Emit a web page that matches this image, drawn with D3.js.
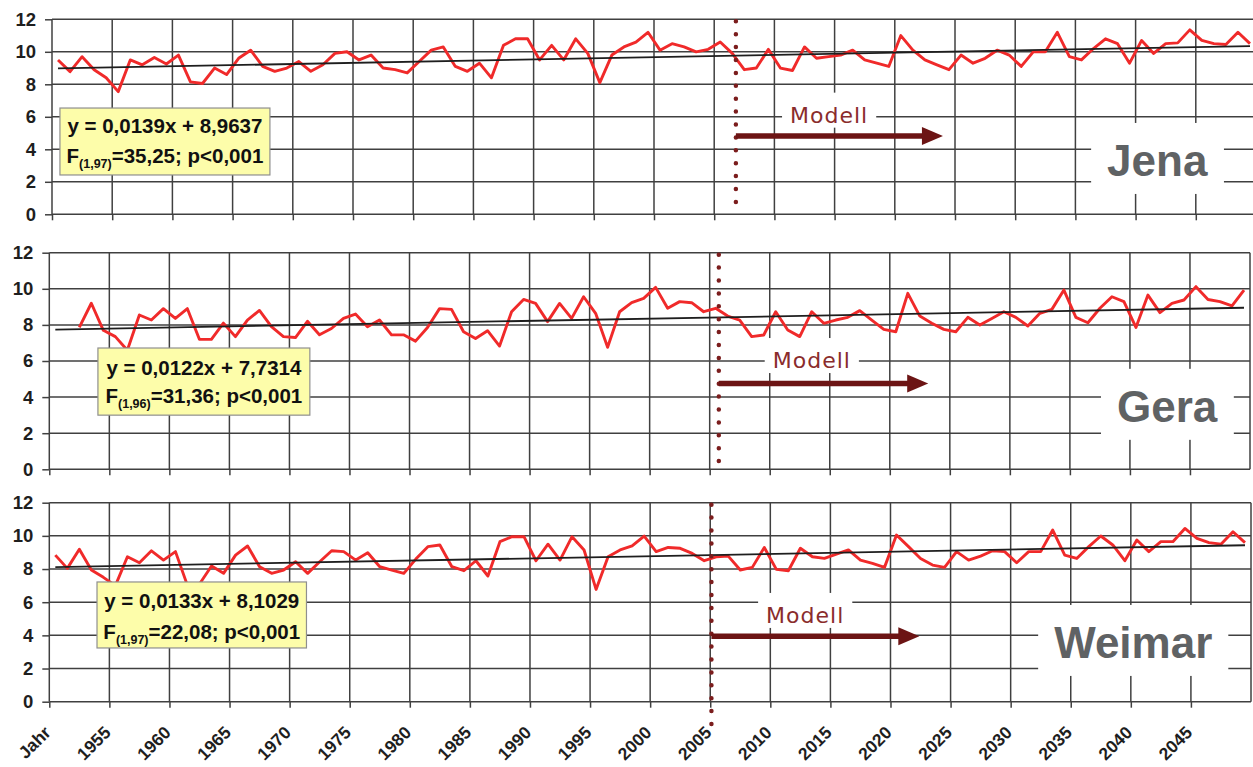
<!DOCTYPE html>
<html>
<head>
<meta charset="utf-8">
<script src="https://cdn.jsdelivr.net/npm/d3@7"></script>
<style>
  html, body { margin: 0; padding: 0; background: #fff; }
  svg { display: block; }
</style>
</head>
<body>
<svg id="chart" width="1253" height="767"></svg>
<script>
// ---- data -------------------------------------------------------------
// Category axis: one slot per year, 1950 .. 2049 (100 slots)
const firstYear = 1950;
const slotCount = 100;
const xTickLabels = ["Jahr", "1955", "1960", "1965", "1970", "1975", "1980", "1985", "1990",
  "1995", "2000", "2005", "2010", "2015", "2020", "2025", "2030", "2035", "2040", "2045"];
const yTickValues = [0, 2, 4, 6, 8, 10, 12];

// Annual mean temperature (°C), measured up to 2006, model afterwards
const jenaStart = 1950;
const jenaTemp = [
  9.5, 8.78, 9.7, 8.9, 8.4, 7.55, 9.5, 9.2, 9.65, 9.25,
  9.8, 8.15, 8.05, 9.0, 8.6, 9.6, 10.1, 9.1, 8.8, 9.0,
  9.4, 8.8, 9.2, 9.9, 10.0, 9.5, 9.8, 9.0, 8.9, 8.7,
  9.4, 10.1, 10.3, 9.1, 8.8, 9.3, 8.4, 10.4, 10.8, 10.8,
  9.5, 10.4, 9.5, 10.8, 9.9, 8.1, 9.8, 10.3, 10.6, 11.2,
  10.1, 10.5, 10.3, 10.0, 10.15, 10.6, 9.9, 8.9, 9.0, 10.15,
  9.0, 8.85, 10.3, 9.6, 9.7, 9.8, 10.1, 9.5, 9.3, 9.1,
  11.0, 10.1, 9.5, 9.2, 8.9, 9.8, 9.3, 9.6, 10.1, 9.8,
  9.1, 10.0, 10.0, 11.2, 9.7, 9.5, 10.2, 10.8, 10.5, 9.3,
  10.7, 9.9, 10.5, 10.55, 11.35, 10.7, 10.5, 10.45, 11.2, 10.5
];

const geraStart = 1952;
const geraTemp = [
  7.86, 9.2, 7.7, 7.35, 6.6, 8.55, 8.27, 8.9,
  8.36, 8.9, 7.2, 7.2, 8.1, 7.35, 8.27, 8.8, 7.9, 7.35,
  7.3, 8.2, 7.45, 7.8, 8.36, 8.6, 7.9, 8.27, 7.45, 7.45,
  7.1, 7.86, 8.9, 8.86, 7.62, 7.25, 7.68, 6.83, 8.73, 9.41,
  9.19, 8.18, 9.19, 8.36, 9.56, 8.64, 6.76, 8.73, 9.23, 9.47,
  10.08, 8.92, 9.29, 9.23, 8.73, 8.92, 8.49, 8.27, 7.35, 7.44,
  8.73, 7.72, 7.35, 8.73, 8.09, 8.27, 8.42, 8.79, 8.27, 7.75,
  7.62, 9.75, 8.49, 8.09, 7.75, 7.62, 8.42, 7.99, 8.36, 8.73,
  8.42, 7.94, 8.64, 8.86, 9.93, 8.42, 8.12, 8.92, 9.56, 9.29,
  7.86, 9.65, 8.68, 9.19, 9.38, 10.12, 9.41, 9.29, 9.05, 9.93
];

const weimarStart = 1950;
const weimarTemp = [
  8.84, 8.04, 9.19, 7.94, 7.5, 7.0, 8.74, 8.38, 9.1, 8.54,
  9.05, 7.0, 7.1, 8.18, 7.74, 8.84, 9.39, 8.14, 7.74, 7.94,
  8.44, 7.74, 8.44, 9.1, 9.05, 8.54, 8.98, 8.14, 7.94, 7.74,
  8.6, 9.35, 9.45, 8.14, 7.9, 8.5, 7.58, 9.65, 9.95, 9.95,
  8.5, 9.5, 8.54, 9.95, 9.15, 6.77, 8.74, 9.15, 9.39, 9.99,
  9.05, 9.3, 9.25, 8.94, 8.5, 8.74, 8.78, 7.94, 8.1, 9.3,
  7.98, 7.9, 9.25, 8.74, 8.64, 8.9, 9.15, 8.54, 8.34, 8.1,
  10.05, 9.35, 8.64, 8.24, 8.1, 9.05, 8.54, 8.78, 9.1, 9.05,
  8.38, 9.05, 9.05, 10.35, 8.84, 8.64, 9.35, 9.99, 9.45, 8.5,
  9.75, 9.05, 9.65, 9.65, 10.45, 9.85, 9.59, 9.5, 10.25, 9.59
];

// Linear trends y = slope * x + intercept, x = slot number starting at 1
const stationNames = ["Jena", "Gera", "Weimar"];
const trendSlope = [0.0139, 0.0122, 0.0133];
const trendIntercept = [8.9637, 7.7314, 8.1029];
const equationText = ["y = 0,0139x + 8,9637", "y = 0,0122x + 7,7314", "y = 0,0133x + 8,1029"];
const fDegrees = ["(1,97)", "(1,96)", "(1,97)"];
const fResult = ["=35,25; p<0,001", "=31,36; p<0,001", "=22,08; p<0,001"];
const modelLabel = "Modell";

// ---- layout (pixels / axis units) --------------------------------------
const W = 1253, H = 767;
const panels = [
  { left: 52,   right: 1256, top: 19.3,  bottom: 214.3, start: jenaStart,   temps: jenaTemp,
    eqBox: [0.66, 18.1, 6.54, 2.42], eqL1: 25, eqL2: 55,
    split: 56.8, splitRange: [12, 0],    arrowV: 4.82, arrowEnd: 74.0,
    modelX: 61.3, modelV: 5.64, nameX: 91.8, nameV: 2.36 },
  { left: 49.3, right: 1250, top: 252.7, bottom: 469.3, start: geraStart,   temps: geraTemp,
    eqBox: [4.05, 21.7, 6.72, 3.0], eqL1: 27, eqL2: 55,
    split: 55.76, splitRange: [12, 0.4], arrowV: 4.76, arrowEnd: 73.2,
    modelX: 60.25, modelV: 5.61, nameX: 93.1, nameV: 2.63 },
  { left: 49.3, right: 1251, top: 502.7, bottom: 701.7, start: weimarStart, temps: weimarTemp,
    eqBox: [3.97, 21.4, 7.22, 3.24], eqL1: 26, eqL2: 57,
    split: 55.1, splitRange: [12, -1.4], arrowV: 3.95, arrowEnd: 72.4,
    modelX: 59.65, modelV: 4.75, nameX: 90.2, nameV: 2.64 }
];

const gridColor = "#404040";
const lineRed = "#f02a2a";
const darkRed = "#6c1414";
const font = "'Liberation Sans', Arial, Helvetica, sans-serif";

const svg = d3.select("#chart");
svg.append("rect").attr("width", W).attr("height", H).attr("fill", "#fff");

panels.forEach((p, i) => {
  const g = svg.append("g");
  const x = d3.scaleLinear().domain([0, slotCount]).range([p.left, p.right]);
  const y = d3.scaleLinear().domain([0, 12]).range([p.bottom, p.top]);
  const xRight = Math.min(p.right, W);

  // horizontal grid
  g.append("g").selectAll("line").data(yTickValues).join("line")
    .attr("x1", p.left).attr("x2", xRight)
    .attr("y1", d => y(d)).attr("y2", d => y(d))
    .attr("stroke", gridColor).attr("stroke-width", 1.5);

  // vertical grid every 5 slots
  const bounds = d3.range(0, slotCount + 1, 5);
  g.append("g").selectAll("line").data(bounds.filter(b => x(b) <= W)).join("line")
    .attr("x1", d => x(d)).attr("x2", d => x(d))
    .attr("y1", y(12)).attr("y2", y(0))
    .attr("stroke", gridColor).attr("stroke-width", 1.5);

  // y axis
  const yAxis = d3.axisLeft(y).tickValues(yTickValues).tickSize(7).tickPadding(9)
    .tickFormat(d3.format("d"));
  const ya = g.append("g").attr("transform", `translate(${p.left},0)`).call(yAxis);
  ya.select(".domain").remove();
  ya.selectAll("line").attr("stroke", gridColor).attr("stroke-width", 1.5);
  ya.selectAll("text").attr("font-family", font).attr("font-weight", "bold")
    .attr("font-size", 18.5).attr("fill", "#1e1e1e");

  // x axis (labels only on the lowest panel)
  const isLast = i === panels.length - 1;
  const xAxis = d3.axisBottom(x).tickValues(bounds.slice(0, 20)).tickSize(6)
    .tickFormat((d, k) => isLast ? xTickLabels[k] : "");
  const xa = g.append("g").attr("transform", `translate(0,${p.bottom})`).call(xAxis);
  xa.select(".domain").remove();
  xa.selectAll("line").attr("stroke", gridColor).attr("stroke-width", 1.5);
  xa.selectAll("text")
    .attr("font-family", font).attr("font-weight", "bold").attr("font-size", 17.5)
    .attr("fill", "#1e1e1e")
    .attr("x", 0).attr("y", 0).attr("dy", 0)
    .attr("text-anchor", "end")
    .attr("transform", "translate(2,32) rotate(-45)");

  // temperature series
  const pts = p.temps.map((v, k) => ({ slot: p.start - firstYear + k, v }));
  g.append("path").datum(pts)
    .attr("fill", "none").attr("stroke", lineRed).attr("stroke-width", 2.9)
    .attr("stroke-linejoin", "round")
    .attr("d", d3.line().x(d => x(d.slot + 0.5)).y(d => y(d.v)));

  // trend line over the full category range
  const trend = [0, slotCount - 1].map(s => ({ slot: s, v: trendSlope[i] * (s + 1) + trendIntercept[i] }));
  g.append("path").datum(trend)
    .attr("fill", "none").attr("stroke", "#1e1e1e").attr("stroke-width", 1.8)
    .attr("d", d3.line().x(d => x(d.slot + 0.5)).y(d => y(d.v)));

  // regression box
  const [b0, b1, v0, v1] = p.eqBox;
  const bx = x(b0), by = y(v0), bw = x(b1) - x(b0), bh = y(v1) - y(v0);
  g.append("rect").attr("x", bx).attr("y", by).attr("width", bw).attr("height", bh)
    .attr("fill", "#fdfdaa").attr("stroke", "#8f8f8f").attr("stroke-width", 1.2);
  g.append("text").attr("x", bx + bw / 2).attr("y", by + p.eqL1)
    .attr("text-anchor", "middle").attr("font-family", font).attr("font-weight", "bold")
    .attr("font-size", 20.5).attr("fill", "#111").text(equationText[i]);
  const f = g.append("text").attr("x", bx + bw / 2).attr("y", by + p.eqL2)
    .attr("text-anchor", "middle").attr("font-family", font).attr("font-weight", "bold")
    .attr("font-size", 20.5).attr("fill", "#111");
  f.append("tspan").text("F");
  f.append("tspan").attr("font-size", 12.5).attr("dy", 5).text(fDegrees[i]);
  f.append("tspan").attr("font-size", 20.5).attr("dy", -5).text(fResult[i]);

  // start of model period
  g.append("line")
    .attr("x1", x(p.split)).attr("x2", x(p.split))
    .attr("y1", y(p.splitRange[0]) + 2).attr("y2", y(p.splitRange[1]))
    .attr("stroke", "#7b1d1d").attr("stroke-width", 4.5)
    .attr("stroke-linecap", "round").attr("stroke-dasharray", "0 12.9");

  // "Modell" label with white background
  const mt = g.append("text").attr("x", x(p.modelX)).attr("y", y(p.modelV))
    .attr("font-family", "'DejaVu Sans', Verdana, sans-serif").attr("font-size", 22)
    .attr("letter-spacing", 1).attr("fill", "#8a2c2c").text(modelLabel);
  const mb = mt.node().getBBox();
  g.insert("rect", () => mt.node())
    .attr("x", mb.x - 8).attr("y", mb.y - 10).attr("width", mb.width + 16).attr("height", mb.height + 10)
    .attr("fill", "#fff");

  // arrow into the model period
  const ay = y(p.arrowV), ax0 = x(p.split), ax1 = x(p.arrowEnd);
  g.append("line").attr("x1", ax0).attr("x2", ax1 - 16).attr("y1", ay).attr("y2", ay)
    .attr("stroke", darkRed).attr("stroke-width", 5.5);
  g.append("path")
    .attr("d", `M${ax1},${ay} L${ax1 - 21},${ay - 9} L${ax1 - 21},${ay + 9} Z`)
    .attr("fill", darkRed);

  // station name with white background
  const nt = g.append("text").attr("x", x(p.nameX)).attr("y", y(p.nameV))
    .attr("text-anchor", "middle").attr("font-family", font).attr("font-weight", "bold")
    .attr("font-size", 44).attr("fill", "#5f6264").text(stationNames[i]);
  const nb = nt.node().getBBox();
  g.insert("rect", () => nt.node())
    .attr("x", nb.x - 16).attr("y", nb.y - 13).attr("width", nb.width + 32).attr("height", nb.height + 22)
    .attr("fill", "#fff");
});
</script>
</body>
</html>
